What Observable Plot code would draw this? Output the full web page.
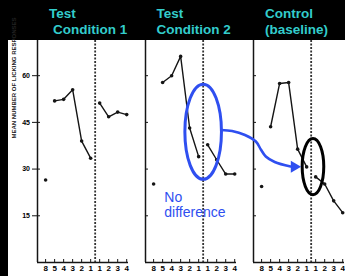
<!DOCTYPE html>
<html>
<head>
<meta charset="utf-8">
<script src="https://cdn.jsdelivr.net/npm/d3@7"></script>
<script src="https://cdn.jsdelivr.net/npm/@observablehq/plot@0.6"></script>
<style>
  html, body { margin: 0; padding: 0; background: #000; }
  #wrap { position: relative; width: 345px; height: 276px; overflow: hidden; background: #000; }
  .h { position: absolute; color: #33cccc; font: bold 13.5px "Liberation Sans", Arial, sans-serif; line-height: 15.7px; white-space: nowrap; }
  #chart { position: absolute; left: 8px; top: 40px; width: 337px; height: 236px; }
</style>
</head>
<body>
<div id="wrap">
  <div id="heads"></div>
  <div id="chart"></div>
</div>
<script>
// ---- data ----
const panels = ["Test Condition 1", "Test Condition 2", "Control (baseline)"];
const headings = [["Test", "Condition 1"], ["Test", "Condition 2"], ["Control", "(baseline)"]];
const xLabels = ["8", "5", "4", "3", "2", "1", "1", "2", "3", "4"];
const yTicks = [15, 30, 45, 60];
const yLabel = "MEAN NUMBER OF LICKING RESPONSES";
const cond1   = [26.5, 51.9, 52.4, 55.5, 39.0, 33.5, 51.2, 46.8, 48.3, 47.5];
const cond2   = [25.2, 57.8, 60.0, 66.2, 43.2, 34.0, 37.8, 33.0, 28.4, 28.4];
const control = [24.4, 43.6, 57.5, 57.8, 36.4, 30.7, 27.5, 25.2, 19.8, 16.0];
const noteText = "No\ndifference";
// annotation anchors (in data units of the named panel)
const blueEllipse  = {panel: panels[1], i: 5.5, v: 42.0};
const blueEllipseR = 18.3;
const blackEllipse = {panel: panels[2], i: 5.7, v: 30.8};
const blackEllipseR = 10.8;
const arrowI = [7.50, 8.71, 10.14, 11.35, 11.90, 12.45, 13.44, 15.20];
const arrowV = [42.56, 42.23, 40.95, 38.86, 36.29, 34.04, 32.28, 30.83];
const arrowHead = {panel: panels[1], i: 15.61, v: 30.74};
const noteAt = {panel: panels[1], i: 1.19, v: 23.1};

// ---- headings ----
const headLeft = [[49, 53], [156.5, 156.5], [265, 265]];
const heads = document.getElementById("heads");
headings.forEach((lines, k) => {
  lines.forEach((t, j) => {
    const d = document.createElement("div");
    d.className = "h";
    d.textContent = t;
    d.style.left = headLeft[k][j] + "px";
    d.style.top = (6.4 + j * 15.7) + "px";
    heads.appendChild(d);
  });
});

// ---- table ----
const series = [cond1, cond2, control];
const rows = panels.flatMap((p, k) => series[k].map((v, i) => ({
  panel: p, i, v, phase: i === 0 ? "B" : i <= 5 ? "pre" : "post"
})));
const arrow = arrowI.map((i, k) => ({panel: panels[1], i, v: arrowV[k]}));

const ellipse = {
  draw(context, size) {
    const rx = Math.sqrt(size / Math.PI), ry = rx * 2.6, k = 0.5523;
    context.moveTo(rx, 0);
    context.bezierCurveTo(rx, ry * k, rx * k, ry, 0, ry);
    context.bezierCurveTo(-rx * k, ry, -rx, ry * k, -rx, 0);
    context.bezierCurveTo(-rx, -ry * k, -rx * k, -ry, 0, -ry);
    context.bezierCurveTo(rx * k, -ry, rx, -ry * k, rx, 0);
    context.closePath();
  }
};

const xDomain = [-0.9, 9.2];
const ink = "#151515";
const blue = "#2f4ff0";

const chart = Plot.plot({
  width: 337,
  height: 236,
  marginLeft: 28,
  marginRight: 0,
  marginTop: 0,
  marginBottom: 14,
  style: {background: "white", fontFamily: "'Liberation Sans', Arial, sans-serif", overflow: "visible"},
  fx: {domain: panels, paddingInner: 0.153, paddingOuter: 0, axis: null},
  x: {type: "linear", domain: xDomain},
  y: {domain: [0, 71.3]},
  marks: [
    Plot.ruleX([xDomain[0]], {stroke: ink, strokeWidth: 1.5}),
    Plot.ruleY([0], {stroke: ink, strokeWidth: 1.5}),
    Plot.ruleX([5.5], {stroke: "#333", strokeWidth: 1.8, strokeDasharray: "2,1.5"}),
    Plot.axisY({ticks: yTicks, tickSize: 5, tickPadding: 2.5, fontSize: 7, fontWeight: "bold", label: null, stroke: ink}),
    Plot.axisY({ticks: yTicks, tickSize: -3, tickFormat: () => "", facetAnchor: null, label: null, stroke: ink}),
    Plot.axisX({ticks: d3.range(xLabels.length), tickSize: 0, tickPadding: 3, tickFormat: i => xLabels[i], fontSize: 8, fontWeight: "bold", label: null}),
    Plot.axisX({ticks: d3.range(xLabels.length), tickSize: -3, tickFormat: () => "", label: null, stroke: ink}),
    Plot.text([yLabel], {fx: () => panels[0], text: d => d, frameAnchor: "left", rotate: -90, dx: -23, dy: -13, fontSize: 6, fontWeight: "bold", fill: "#222"}),
    Plot.line(rows.filter(d => d.phase !== "B"), {fx: "panel", x: "i", y: "v", z: "phase", stroke: ink, strokeWidth: 1.4}),
    Plot.dot(rows, {fx: "panel", x: "i", y: "v", r: 1.8, fill: ink}),
    Plot.dot([blueEllipse], {fx: "panel", x: "i", y: "v", r: blueEllipseR, symbol: ellipse, fill: "none", stroke: blue, strokeWidth: 3}),
    Plot.dot([blackEllipse], {fx: "panel", x: "i", y: "v", r: blackEllipseR, symbol: ellipse, fill: "none", stroke: "#000", strokeWidth: 3}),
    Plot.line(arrow, {fx: "panel", x: "i", y: "v", curve: "catmull-rom", stroke: blue, strokeWidth: 2.6}),
    Plot.dot([arrowHead], {fx: "panel", x: "i", y: "v", r: 4.4, symbol: "triangle", rotate: 90, fill: blue}),
    Plot.text([noteAt], {fx: "panel", x: "i", y: "v", text: () => noteText, textAnchor: "start", lineAnchor: "top", lineHeight: 1.12, fontSize: 14, fill: blue})
  ]
});
document.getElementById("chart").appendChild(chart);
</script>
</body>
</html>
